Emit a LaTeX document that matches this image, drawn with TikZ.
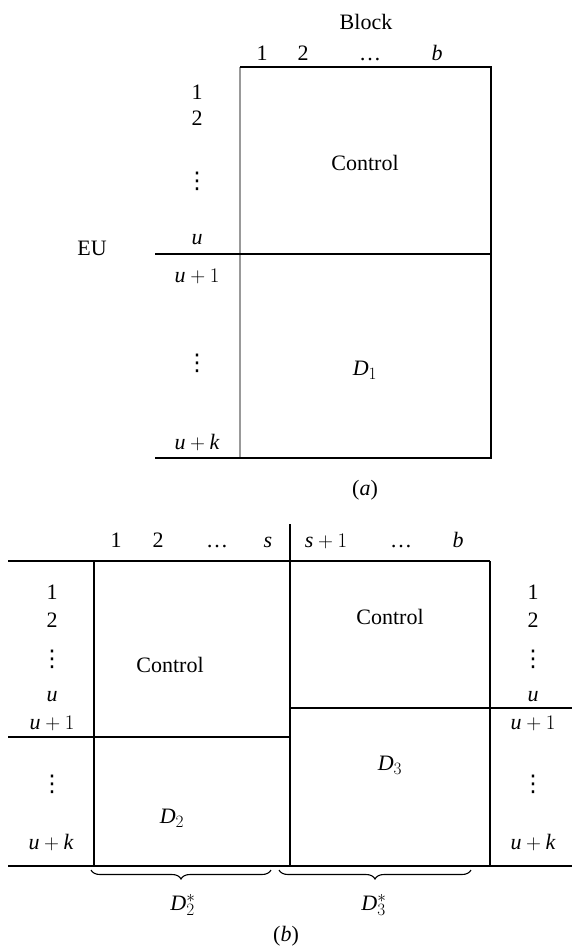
\documentclass[tikz,border=0pt]{standalone}
\usepackage{fontspec}
\setmainfont{Liberation Serif}
\newfontfamily\dvs{DejaVu Sans}
\DeclareMathSizes{22}{22}{16}{12}
\usetikzlibrary{decorations.pathreplacing}
\newcommand{\mi}[1]{\textit{#1}}
\newcommand{\myvd}{{\dvs\fontsize{23}{23}\selectfont ⋮}}
\begin{document}
\begin{tikzpicture}[x=1pt,y=-1pt,
  every node/.style={font=\fontsize{22}{26}\selectfont, inner sep=0pt},
  hd/.style={anchor=base},
  rule/.style={line width=1.2pt, black},
  grayrule/.style={line width=1.2pt, black!40},
  brc/.style={decorate, decoration={brace, mirror, amplitude=9pt}, line width=1.1pt}]
\useasboundingbox (0,0) rectangle (572,950);
% ---------------- (a) ----------------
\node (blk) at (366,22) {Block};
\node[hd] (ac1) at (262,60) {1};
\node[hd] (ac2) at (303,60) {2};
\node[hd] (acd) at (370,60) {\dots};
\node[hd] (acb) at (437,60) {\mi{b}};
\node (ar1) at (197,92) {1};
\node (ar2) at (197,118) {2};
\node (ard) at (197,181) {\myvd};
\node (aru) at (197,240) {\mi{u}};
\node (eu) at (92,248) {EU};
\node (aru1) at (197,276) {$\mi{u}+1$};
\node (ardd) at (197,363) {\myvd};
\node (aruk) at (197,443) {$\mi{u}+\mi{k}$};
\node (actl) at (365,163) {Control};
\node (ad1) at (365,370) {$\mi{D}_1$};
\node (capa) at (365,490) {(\mi{a})};
\coordinate (aTL) at (240,67);
\coordinate (aTR) at (491,67);
\coordinate (aBR) at (491,458);
\coordinate (aBL) at (155,458);
\coordinate (aML) at (155,254);
\coordinate (aMR) at (491,254);
\draw[grayrule] (aTL) -- (240,458);
\draw[rule] (aTL) -- (aTR) -- (aBR) -- (aBL);
\draw[rule] (aML) -- (aMR);
% ---------------- (b) ----------------
\node[hd] (bc1) at (116,547) {1};
\node[hd] (bc2) at (158,547) {2};
\node[hd] (bcd) at (217,547) {\dots};
\node[hd] (bcs) at (268,547) {\mi{s}};
\node[hd] (bcs1) at (326,547) {$\mi{s}+1$};
\node[hd] (bcdd) at (401,547) {\dots};
\node[hd] (bcb) at (458,547) {\mi{b}};
% left labels
\node (bl1) at (52,592) {1};
\node (bl2) at (52,620) {2};
\node (bld) at (52,659) {\myvd};
\node (blu) at (52,697) {\mi{u}};
\node (blu1) at (52,723) {$\mi{u}+1$};
\node (bldd) at (52,784) {\myvd};
\node (bluk) at (51,843) {$\mi{u}+\mi{k}$};
% right labels
\node (br1) at (533,592) {1};
\node (br2) at (533,620) {2};
\node (brd) at (533,659) {\myvd};
\node (bru) at (533,697) {\mi{u}};
\node (bru1) at (533,723) {$\mi{u}+1$};
\node (brdd) at (533,784) {\myvd};
\node (bruk) at (533,843) {$\mi{u}+\mi{k}$};
% cell texts
\node (bctl1) at (170,665) {Control};
\node (bd2) at (172,818) {$\mi{D}_2$};
\node (bctl2) at (390,617) {Control};
\node (bd3) at (390,765) {$\mi{D}_3$};
% grid
\coordinate (bTL) at (8,561);
\coordinate (bTR) at (490,561);
\coordinate (bBL) at (8,866);
\coordinate (bBR) at (572,866);
\draw[rule] (bTL) -- (bTR);
\draw[rule] (bBL) -- (bBR);
\draw[rule] (94,561) -- (94,866);
\draw[rule] (290,524) -- (290,866);
\draw[rule] (490,561) -- (490,866);
\draw[rule] (8,737) -- (290,737);
\draw[rule] (290,708) -- (572,708);
% braces
\coordinate (br2a) at (91,870);
\coordinate (br2b) at (271,870);
\coordinate (br3a) at (279,870);
\coordinate (br3b) at (471,870);
\draw[brc] (br2a) -- (br2b);
\draw[brc] (br3a) -- (br3b);
\node (bd2s) at (183,905) {$\mi{D}_2^*$};
\node (bd3s) at (374,905) {$\mi{D}_3^*$};
\node (capb) at (286,936) {(\mi{b})};
\end{tikzpicture}
\end{document}
